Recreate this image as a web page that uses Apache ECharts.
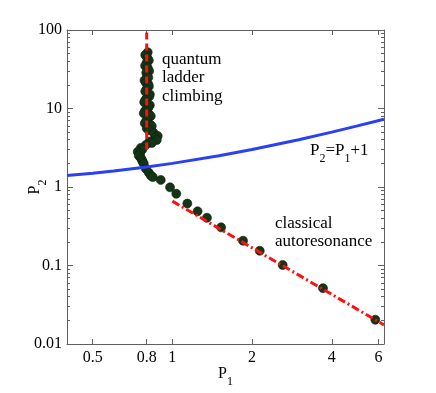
<!DOCTYPE html>
<html>
<head>
<meta charset="utf-8">
<script src="https://cdn.jsdelivr.net/npm/echarts@6/dist/echarts.min.js"></script>
<style>
  html, body { margin: 0; padding: 0; background: #fff; }
  #chart { width: 436px; height: 393px; }
</style>
</head>
<body>
<div id="chart"></div>
<script>
// quantum ladder climbing points (P1, P2)
var quantumP1 = [0.807, 0.790, 0.804, 0.815, 0.800, 0.789, 0.807, 0.817, 0.797, 0.803,
                 0.811, 0.785, 0.794, 0.812, 0.815, 0.800, 0.790, 0.822, 0.818, 0.800,
                 0.790, 0.783, 0.822, 0.812, 0.800, 0.788, 0.780, 0.817, 0.829, 0.807,
                 0.797, 0.787, 0.825, 0.836, 0.800, 0.815, 0.851, 0.880, 0.860, 0.873,
                 0.820, 0.836, 0.794, 0.760, 0.770, 0.740, 0.755, 0.747, 0.760, 0.767,
                 0.772, 0.780, 0.794, 0.815, 0.829, 0.843];
var quantumP2 = [52.0, 48.0, 44.3, 41.0, 38.3, 35.0, 33.2, 30.0, 28.7, 26.0,
                 24.8, 22.8, 21.4, 20.2, 19.1, 17.8, 16.5, 15.1, 14.2, 13.5,
                 12.8, 12.0, 11.0, 10.3, 9.8, 9.3, 8.7, 8.4, 8.0, 7.3,
                 7.0, 6.5, 6.2, 5.97, 5.6, 5.3, 4.87, 4.47, 4.2, 3.97,
                 3.8, 3.64, 3.44, 3.15, 3.0, 2.81, 2.65, 2.50, 2.35, 2.22,
                 2.1, 1.98, 1.71, 1.52, 1.40, 1.34];
// classical autoresonance points
var classicalP1 = [0.904, 0.98, 1.035, 1.139, 1.245, 1.351, 1.528, 1.849, 2.138, 2.61, 3.706, 5.84];
var classicalP2 = [1.23, 0.99, 0.82, 0.616, 0.49, 0.406, 0.306, 0.207, 0.154, 0.1015, 0.0514, 0.0204];
// P2 = P1 + 1 curve
var boundP1 = [0.4, 0.5, 0.6, 0.8, 1, 1.5, 2, 3, 4, 5, 6.3];
var boundP2 = [1.4, 1.5, 1.6, 1.8, 2, 2.5, 3, 4, 5, 6, 7.3];
// red guide lines
var ladderP1 = [0.8, 0.8];
var ladderP2 = [3, 100];
var autoresP1 = [1.0, 6.3];
var autoresP2 = [0.66, 0.0175];
// ticks
var xTicks = [0.5, 0.8, 1, 2, 4, 6];
var yTicks = [0.01, 0.1, 1, 10, 100];
var xRange = [0.4, 6.3];
var yRange = [0.01, 100];

var lg = function (v) { return Math.log10(v); };
function pairs(xs, ys) {
  return xs.map(function (x, i) { return [lg(x), lg(ys[i])]; });
}
var yMinor = [];
for (var d = 0; d < yTicks.length - 1; d++) {
  for (var k = 2; k <= 9; k++) yMinor.push(lg(yTicks[d] * k));
}
var fmt = function (v) { return String(parseFloat(Math.pow(10, v).toPrecision(2))); };

var serif = '"Liberation Serif", "Times New Roman", serif';
var axisCol = '#606060';
var rich = {
  p: { fontSize: 16, lineHeight: 16, fontFamily: serif, color: '#000', padding: [0, 0, 6, 0], verticalAlign: 'top' },
  s: { fontSize: 12, lineHeight: 12, fontFamily: serif, color: '#000', padding: [10, 0, 0, 0], verticalAlign: 'top' }
};
var rich17 = {
  p: { fontSize: 17, lineHeight: 17, fontFamily: serif, color: '#000', padding: [0, 0, 6, 0], verticalAlign: 'top' },
  s: { fontSize: 12, lineHeight: 12, fontFamily: serif, color: '#000', padding: [11, 0, 0, 0], verticalAlign: 'top' }
};

function xAx(pos, labels) {
  return {
    type: 'value', position: pos, min: lg(xRange[0]), max: lg(xRange[1]),
    axisLine: { show: true, onZero: false, lineStyle: { color: axisCol, width: 1 } },
    axisTick: { show: true, inside: true, length: 5, customValues: xTicks.map(lg), lineStyle: { color: axisCol } },
    axisLabel: { show: labels, customValues: xTicks.map(lg), formatter: fmt, color: '#000',
                 fontFamily: serif, fontSize: 16, margin: 6 },
    splitLine: { show: false },
    name: labels ? '{p|P}{s|1}' : '',
    nameLocation: 'middle', nameGap: 22, nameMoveOverlap: false,
    nameTextStyle: { rich: rich }
  };
}
function yAx(pos, major, labels) {
  return {
    type: 'value', position: pos, min: lg(yRange[0]), max: lg(yRange[1]),
    axisLine: { show: major, onZero: false, lineStyle: { color: axisCol, width: 1 } },
    axisTick: { show: true, inside: true, length: major ? 6 : 3,
                customValues: major ? yTicks.map(lg) : yMinor, lineStyle: { color: axisCol } },
    axisLabel: { show: labels, customValues: yTicks.map(lg), formatter: fmt, color: '#000',
                 fontFamily: serif, fontSize: 16, margin: 5 },
    splitLine: { show: false },
    name: labels ? '{p|P}{s|2}' : '',
    nameLocation: 'middle', nameGap: 24, nameMoveOverlap: false,
    nameTextStyle: { rich: rich }
  };
}

var myChart = echarts.init(document.getElementById('chart'));
var option = {
  animation: false,
  backgroundColor: '#fff',
  grid: { left: 67, right: 52, top: 30, bottom: 46 },
  xAxis: [xAx('bottom', true), xAx('top', false)],
  yAxis: [yAx('left', true, true), yAx('left', false, false), yAx('right', true, false), yAx('right', false, false)],
  series: [
    {
      type: 'scatter', name: 'quantum', data: pairs(quantumP1, quantumP2),
      symbolSize: 9, itemStyle: { color: '#163416', borderColor: '#0b200b', borderWidth: 0.6, opacity: 1 }, z: 2
    },
    {
      type: 'scatter', name: 'classical', data: pairs(classicalP1, classicalP2),
      symbolSize: 9, itemStyle: { color: '#163416', borderColor: '#0b200b', borderWidth: 0.6, opacity: 1 }, z: 2
    },
    {
      type: 'line', name: 'bound', data: pairs(boundP1, boundP2), showSymbol: false,
      lineStyle: { color: '#2a40f2', width: 3 }, z: 3
    },
    {
      type: 'line', name: 'ladder', data: pairs(ladderP1, ladderP2), showSymbol: false,
      lineStyle: { color: '#ff1010', width: 3, type: [7, 4] }, z: 4
    },
    {
      type: 'line', name: 'autores', data: pairs(autoresP1, autoresP2), showSymbol: false,
      lineStyle: { color: '#ff1010', width: 3, type: [8, 3, 2, 3] }, z: 4
    }
  ],
  graphic: [
    { type: 'text', left: 162, top: 50, z: 10,
      style: { text: 'quantum\nladder\nclimbing', fontSize: 17, lineHeight: 18.5, fontFamily: serif, fill: '#000' } },
    { type: 'text', left: 275, top: 214, z: 10,
      style: { text: 'classical\nautoresonance', fontSize: 17, lineHeight: 18.5, fontFamily: serif, fill: '#000' } },
    { type: 'text', left: 310, top: 142, z: 10,
      style: { text: '{p|P}{s|2}{p|=P}{s|1}{p|+1}', rich: rich17 } }
  ]
};
myChart.setOption(option);
</script>
</body>
</html>
